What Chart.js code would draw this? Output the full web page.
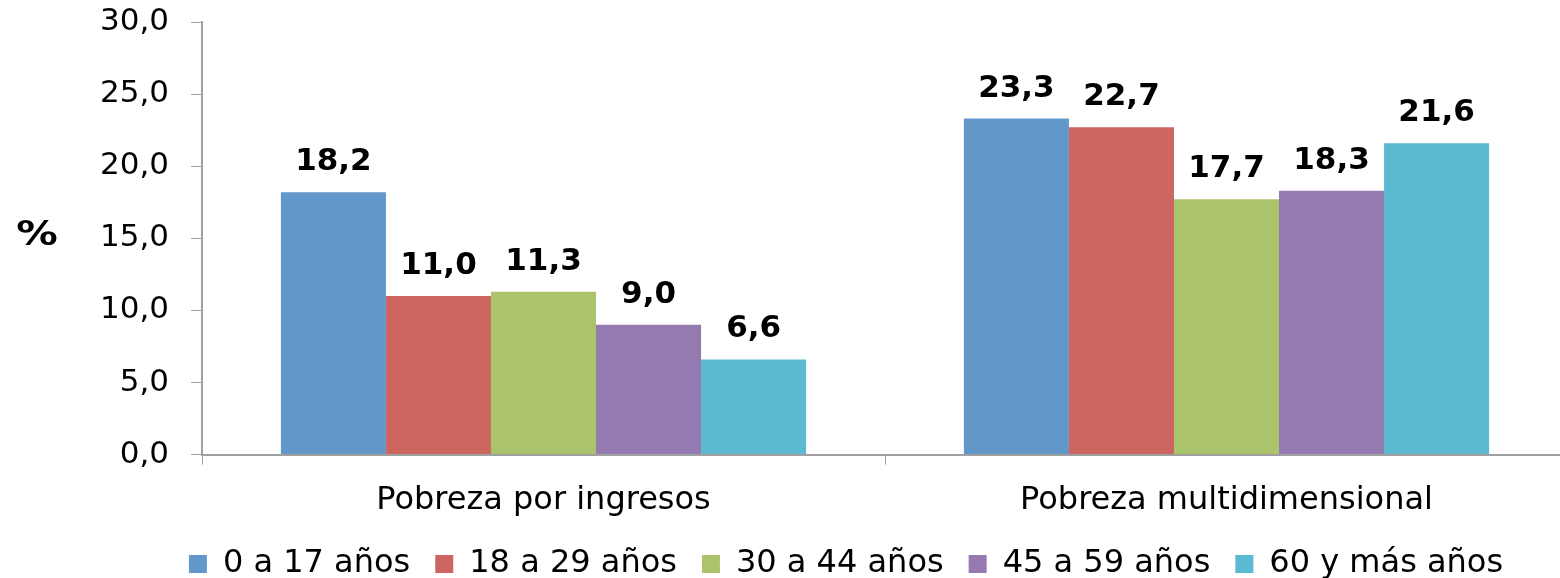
<!DOCTYPE html>
<html><head><meta charset="utf-8">
<script src="https://cdn.jsdelivr.net/npm/chart.js@4"></script>
<style>html,body{margin:0;padding:0;background:#fff;overflow:hidden}#wrap{width:1560px;height:578px;overflow:hidden}</style>
</head><body><div id="wrap"><canvas id="c" width="1568" height="578"></canvas></div>
<script>
const categories = ["Pobreza por ingresos", "Pobreza multidimensional"];
const seriesNames = ["0 a 17 años", "18 a 29 años", "30 a 44 años", "45 a 59 años", "60 y más años"];
const s0a17 = [18.2, 23.3];
const s18a29 = [11.0, 22.7];
const s30a44 = [11.3, 17.7];
const s45a59 = [9.0, 18.3];
const s60mas = [6.6, 21.6];
const colors = ["#6197C9", "#CD6660", "#ABC46C", "#947AB0", "#5BB9D2"];
const yAxisLabel = "%";
const values = [s0a17, s18a29, s30a44, s45a59, s60mas];

const FONT = "'DejaVu Sans', Verdana, sans-serif";
const fmt = v => v.toFixed(1).replace('.', ',');

const labelPlugin = {
  id: 'barLabels',
  afterLayout(chart) {
    const lg = chart.legend;
    if (lg) { lg.left += 62; lg.right += 62; }
  },
  afterDatasetsDraw(chart) {
    const ctx = chart.ctx;
    ctx.save();
    ctx.font = "bold 31px " + FONT;
    ctx.fillStyle = "#000";
    ctx.textAlign = "center";
    ctx.textBaseline = "alphabetic";
    chart.data.datasets.forEach((ds, i) => {
      chart.getDatasetMeta(i).data.forEach((el, j) => {
        ctx.fillText(fmt(ds.data[j]), el.x, el.y - 22);
      });
    });
    ctx.restore();
  },
  afterDraw(chart) {
    const ctx = chart.ctx;
    ctx.save();
    ctx.font = "bold 34px " + FONT;
    ctx.fillStyle = "#000";
    ctx.textAlign = "center";
    ctx.textBaseline = "middle";
    ctx.translate(37, 236);
    ctx.scale(1.22, 1);
    ctx.fillText(yAxisLabel, 0, 0);
    ctx.restore();
  }
};

new Chart(document.getElementById('c'), {
  type: 'bar',
  data: {
    labels: categories,
    datasets: seriesNames.map((n, i) => ({
      label: n,
      data: values[i],
      backgroundColor: colors[i],
      borderWidth: 0,
      barPercentage: 1.0,
      categoryPercentage: 0.769
    }))
  },
  options: {
    responsive: false,
    animation: false,
    devicePixelRatio: 1,
    layout: { padding: { left: 0, right: 0, top: 22, bottom: -12 } },
    plugins: {
      legend: {
        position: 'bottom',
        labels: {
          font: { family: FONT, size: 32 },
          color: '#000',
          boxWidth: 18,
          boxHeight: 18,
          padding: 25
        }
      },
      tooltip: { enabled: false }
    },
    scales: {
      x: {
        afterFit(scale) { scale.height = scale.height - 14; },
        grid: { drawOnChartArea: false, drawTicks: true, tickLength: 10, color: '#a0a0a0', offset: true },
        border: { color: '#a0a0a0', width: 2 },
        ticks: { font: { family: FONT, size: 32 }, color: '#000', padding: 17 }
      },
      y: {
        min: 0, max: 30,
        afterFit(scale) { scale.width = 202; scale.paddingTop = 0; scale.paddingBottom = 0; },
        grid: { drawOnChartArea: false, drawTicks: true, tickLength: 11, color: '#a0a0a0' },
        border: { color: '#a0a0a0', width: 2 },
        ticks: { stepSize: 5, font: { family: FONT, size: 31 }, color: '#000', padding: 22,
          callback: v => fmt(v) }
      }
    }
  },
  plugins: [labelPlugin]
});
</script></body></html>
